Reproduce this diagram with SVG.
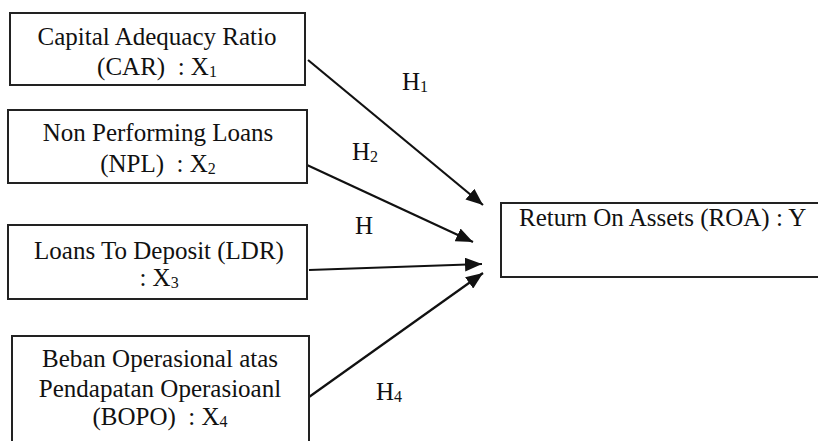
<svg xmlns="http://www.w3.org/2000/svg" width="818" height="441" viewBox="0 0 818 441">
  <style>
    .box { fill: #ffffff; stroke: #222222; stroke-width: 2; }
    .t { font-family: "Liberation Serif", "Times New Roman", serif; font-size: 25px; fill: #111111; white-space: pre; }
    .c { text-anchor: middle; }
    .sub { font-size: 16px; }
    .edge { stroke: #111111; stroke-width: 2.2; fill: none; marker-end: url(#arrow); }
  </style>
  <defs>
    <marker id="arrow" markerUnits="userSpaceOnUse" markerWidth="18" markerHeight="14" refX="17" refY="7" orient="auto">
      <path d="M0,0 L17,7 L0,14 z" fill="#111111"/>
    </marker>
  </defs>
  <rect width="818" height="441" fill="#ffffff"/>

  <g id="connectors">
    <line class="edge" x1="308" y1="60" x2="483" y2="205"/>
    <line class="edge" x1="307" y1="165" x2="473" y2="242"/>
    <line class="edge" x1="309" y1="270" x2="482" y2="264"/>
    <line class="edge" x1="309" y1="397" x2="483" y2="273"/>
    <text class="t" x="402" y="90">H<tspan class="sub" dy="2">1</tspan></text>
    <text class="t" x="352" y="160">H<tspan class="sub" dy="2">2</tspan></text>
    <text class="t" x="355" y="234">H</text>
    <text class="t" x="376" y="400">H<tspan class="sub" dy="2">4</tspan></text>
  </g>

  <g id="car">
    <rect class="box" x="10" y="13" width="295" height="72"/>
    <text class="t c" x="157" y="45">Capital Adequacy Ratio</text>
    <text class="t c" x="157" y="75">(CAR)  : X<tspan class="sub" dy="2">1</tspan></text>
  </g>

  <g id="npl">
    <rect class="box" x="8" y="110" width="299" height="73"/>
    <text class="t c" x="158" y="141">Non Performing Loans</text>
    <text class="t c" x="158" y="172">(NPL)  : X<tspan class="sub" dy="2">2</tspan></text>
  </g>

  <g id="ldr">
    <rect class="box" x="8" y="225" width="299" height="74"/>
    <text class="t c" x="159" y="259">Loans To Deposit (LDR)</text>
    <text class="t c" x="159" y="286">: X<tspan class="sub" dy="2">3</tspan></text>
  </g>

  <g id="bopo">
    <rect class="box" x="12" y="336" width="297" height="130"/>
    <text class="t c" x="160" y="367">Beban Operasional atas</text>
    <text class="t c" x="160" y="397">Pendapatan Operasioanl</text>
    <text class="t c" x="160" y="425">(BOPO)  : X<tspan class="sub" dy="2">4</tspan></text>
  </g>

  <g id="roa">
    <rect class="box" x="501" y="203" width="340" height="74"/>
    <text class="t" x="519" y="226">Return On Assets (ROA) : Y</text>
  </g>
</svg>
